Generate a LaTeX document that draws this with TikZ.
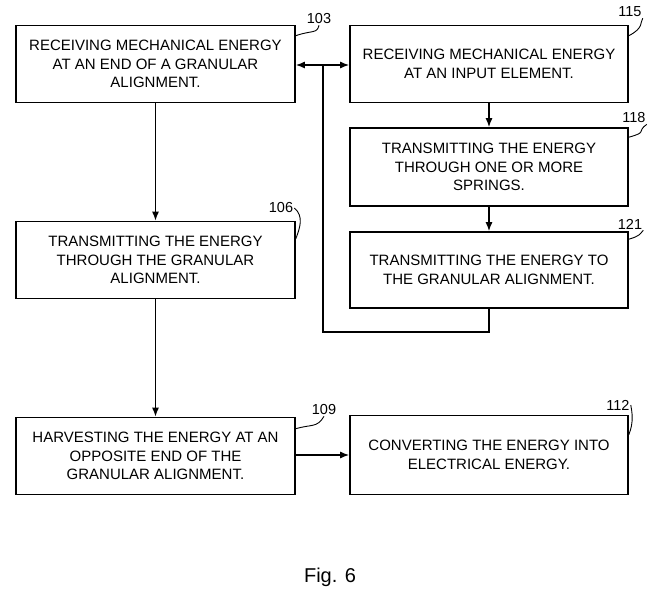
\documentclass[tikz,border=0pt]{standalone}
\usepackage{fontspec}
\setmainfont{Liberation Sans}
\usetikzlibrary{positioning,arrows.meta}
\usetikzlibrary{calc}
\tikzset{
  stepbox/.style={draw,line width=1.6pt,minimum width=279pt,minimum height=77pt,
    align=center,inner sep=0pt,font=\fontsize{15}{18.5}\selectfont},
  flow/.style={line width=1.4pt,-{Latex[length=9pt,width=7pt]}},
  refnum/.style={font=\fontsize{14.5}{16}\selectfont,inner sep=1pt},
  lead/.style={line width=0.9pt}
}
\begin{document}
\begin{tikzpicture}[x=1pt,y=-1pt]
    \useasboundingbox (0,0) rectangle (656,596);
    %Left column
    \node[stepbox] (recv) at (155.5,64) {RECEIVING MECHANICAL ENERGY\\AT AN END OF A GRANULAR\\ALIGNMENT.};
    \node[stepbox] (trans) at (155.5,260) {TRANSMITTING THE ENERGY\\THROUGH THE GRANULAR\\ALIGNMENT.};
    \node[stepbox] (harv) at (155.5,456) {HARVESTING THE ENERGY AT AN\\OPPOSITE END OF THE\\GRANULAR ALIGNMENT.};
    %Right column
    \node[stepbox,minimum width=278pt] (input) at (489,64) {RECEIVING MECHANICAL ENERGY\\AT AN INPUT ELEMENT.};
    \node[stepbox,minimum width=278pt,minimum height=78pt] (spring) at (489,167) {TRANSMITTING THE ENERGY\\THROUGH ONE OR MORE\\SPRINGS.};
    \node[stepbox,minimum width=278pt,minimum height=76pt] (togran) at (489,270) {TRANSMITTING THE ENERGY TO\\THE GRANULAR ALIGNMENT.};
    \node[stepbox,minimum width=278pt,minimum height=79pt] (conv) at (489,455) {CONVERTING THE ENERGY INTO\\ELECTRICAL ENERGY.};
    %Arrows
    \draw[flow] (recv) -- (trans);
    \draw[flow] (trans) -- (harv);
    \draw[flow] (input) -- (spring);
    \draw[flow] (spring) -- (togran);
    \draw[flow] (harv.east |- conv.west) -- (conv.west);
    %Feedback loop
    \coordinate (loopbot) at (323,332);
    \coordinate (join) at (323,65);
    \draw[line width=1.4pt] (togran.south) |- (loopbot) -- (join);
    \draw[line width=1.4pt,{Latex[length=9pt,width=7pt]}-{Latex[length=9pt,width=7pt]}] (recv.east |- join) -- (input.west |- join);
    %Reference numerals
    \node[refnum] (n103) at (319,19) {103};
    \node[refnum] (n115) at (630,12) {115};
    \node[refnum] (n118) at (634,118) {118};
    \node[refnum] (n106) at (281,208) {106};
    \node[refnum] (n121) at (630,224) {121};
    \node[refnum] (n109) at (324,410) {109};
    \node[refnum] (n112) at (618,405) {112};
    \draw[lead] ($(recv.north east)+(0,11)$) .. controls (312,30) and (317,34) .. (n103.south);
    \draw[lead] ($(input.north east)+(0,11)$) .. controls (644,28) and (640,22) .. (n115.south east);
    \draw[lead] ($(spring.north east)+(0,10)$) .. controls (648,132) and (636,132) .. (n118.south east);
    \draw[lead] ($(trans.north east)+(0,18)$) .. controls (300,228) and (304,216) .. (n106.east);
    \draw[lead] ($(togran.north east)+(0,8)$) .. controls (640,236) and (640,234) .. (n121.south east);
    \draw[lead] ($(harv.north east)+(0,12)$) .. controls (312,424) and (317,428) .. (n109.south);
    \draw[lead] ($(conv.north east)+(0,20)$) .. controls (634,422) and (632,412) .. (n112.east);
    %Caption
    \node[font=\fontsize{20}{22}\selectfont] (cap) at (330,577) {Fig. 6};
\end{tikzpicture}
\end{document}
